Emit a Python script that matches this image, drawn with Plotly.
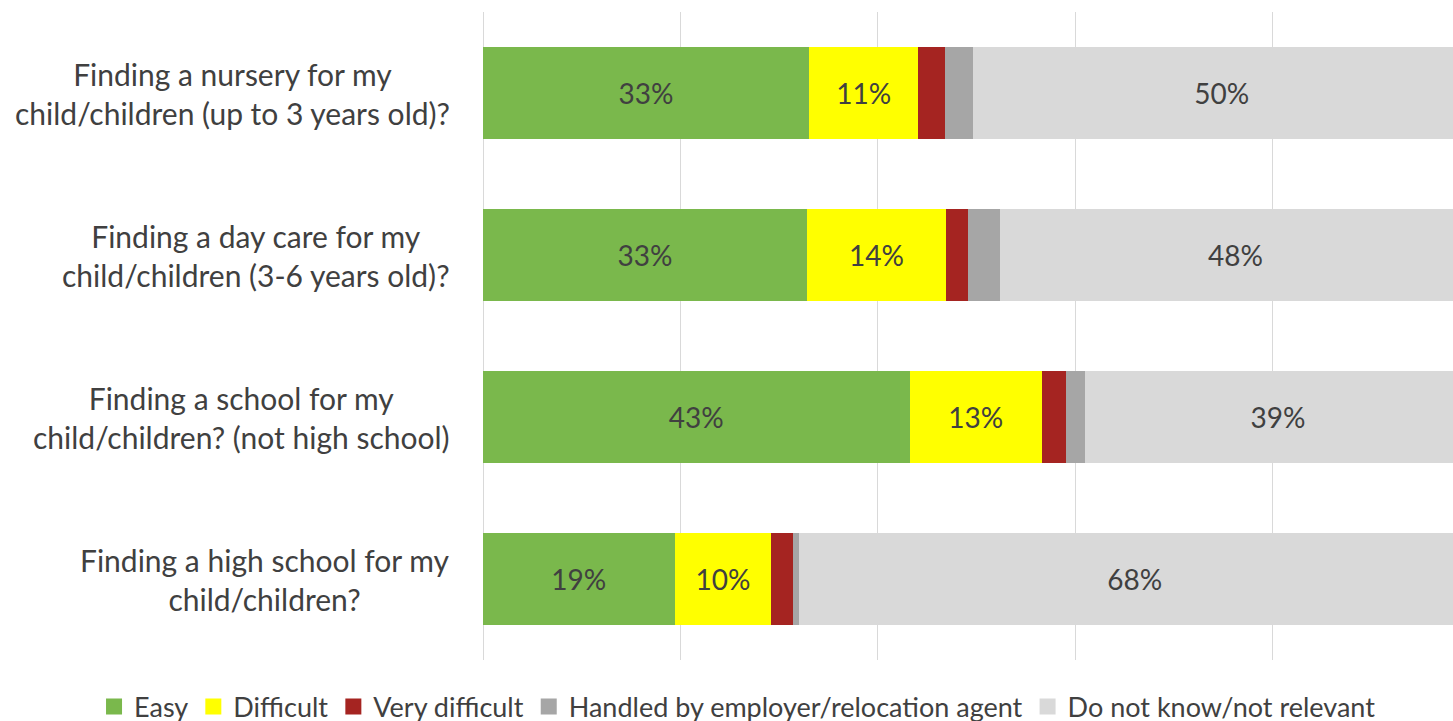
import plotly.graph_objects as go

categories = [
    "Finding a nursery for my<br>child/children (up to 3 years old)?",
    "Finding a day care for my<br>child/children (3-6 years old)?",
    "Finding a school for my<br>child/children? (not high school)",
    "Finding a high school for my<br>child/children?",
]
series_names = ["Easy", "Difficult", "Very difficult",
                "Handled by employer/relocation agent", "Do not know/not relevant"]
easy = [33.0, 32.8, 43.2, 19.4]
difficult = [11.1, 14.1, 13.4, 9.8]
very_difficult = [2.7, 2.2, 2.4, 2.2]
handled = [2.8, 3.3, 2.0, 0.6]
dont_know = [50.4, 47.6, 39.0, 68.0]

colors = ["#7AB84C", "#FFFF00", "#A52421", "#A6A6A6", "#D9D9D9"]
show_text = [True, True, False, False, True]
series = [easy, difficult, very_difficult, handled, dont_know]

FONT = "Lato"
TXT = "#404040"

fig = go.Figure()
for name, vals, col, st in zip(series_names, series, colors, show_text):
    fig.add_trace(go.Bar(
        y=categories, x=vals, name=name, orientation="h",
        marker=dict(color=col, line=dict(width=0)),
        text=[f"{round(v)}%" for v in vals] if st else None,
        textposition="inside" if st else "none",
        insidetextanchor="middle",
        textfont=dict(family=FONT, size=28, color=TXT),
        width=0.57, showlegend=False, legendgroup=name,
    ))
# legend entries with larger square swatches
for name, col in zip(series_names, colors):
    fig.add_trace(go.Scatter(
        x=[None], y=[None], mode="markers", name=name, legendgroup=name,
        marker=dict(symbol="square", size=16, color=col), showlegend=True,
    ))

for c in categories:
    fig.add_annotation(
        x=0, xref="paper", y=c, yref="y", text=c, showarrow=False,
        xanchor="right", xshift=-31, align="center",
        font=dict(family=FONT, size=30, color=TXT),
    )

fig.update_layout(
    barmode="stack",
    width=1453, height=721,
    margin=dict(l=483, r=0, t=12, b=61, autoexpand=False),
    plot_bgcolor="white", paper_bgcolor="white",
    bargap=0.43,
    legend=dict(
        orientation="h", xref="paper", yref="paper",
        x=-0.401, xanchor="left", y=-0.0725, yanchor="middle",
        font=dict(family=FONT, size=27, color=TXT),
        traceorder="normal",
    ),
    showlegend=True,
)
fig.update_xaxes(range=[0, 98.23], dtick=20, showgrid=True, gridcolor="#D9D9D9",
                 gridwidth=1, zeroline=True, zerolinecolor="#D9D9D9", zerolinewidth=1,
                 showticklabels=False, showline=False, ticks="")
fig.update_yaxes(autorange="reversed", type="category", showticklabels=False, showgrid=False,
                 zeroline=False, showline=False, ticks="")

fig.write_html(
    "out.html",
    config={"displayModeBar": False},
    post_script="document.body.style.margin='0';document.body.style.overflow='hidden';",
)
